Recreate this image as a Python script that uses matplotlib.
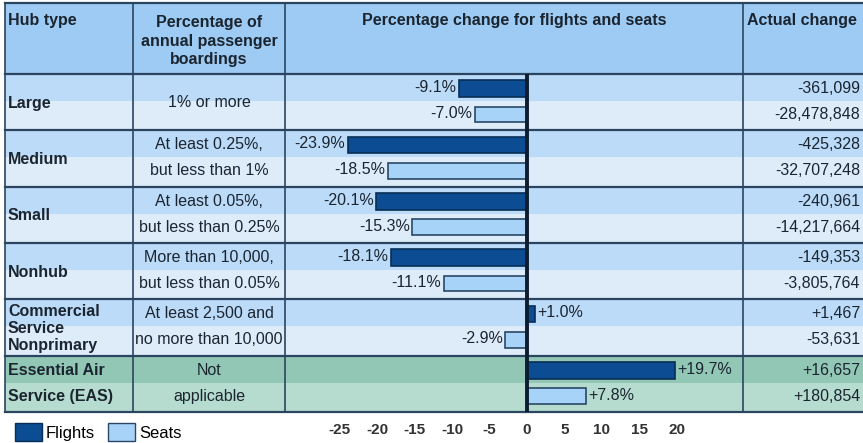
import matplotlib.pyplot as plt
from matplotlib.patches import Rectangle, Patch

# data
hub_types = ['Large', 'Medium', 'Small', 'Nonhub',
             'Commercial\nService\nNonprimary', 'Essential Air\nService (EAS)']
boardings = ['1% or more', 'At least 0.25%,\nbut less than 1%',
             'At least 0.05%,\nbut less than 0.25%',
             'More than 10,000,\nbut less than 0.05%',
             'At least 2,500 and\nno more than 10,000', 'Not\napplicable']
flights_pct = [-9.1, -23.9, -20.1, -18.1, 1.0, 19.7]
seats_pct = [-7.0, -18.5, -15.3, -11.1, -2.9, 7.8]
flights_change = ['-361,099', '-425,328', '-240,961', '-149,353', '+1,467', '+16,657']
seats_change = ['-28,478,848', '-32,707,248', '-14,217,664', '-3,805,764',
                '-53,631', '+180,854']
ticks = [-25, -20, -15, -10, -5, 0, 5, 10, 15, 20]

W, H = 863, 443
NARROW = ['Liberation Sans Narrow', 'Liberation Sans', 'DejaVu Sans']
BOLD = ['Liberation Sans', 'DejaVu Sans']

HEADER = '#9dcbf3'
BAND_TOP = '#bcdbf8'
BAND_BOT = '#deecfa'
EAS_TOP = '#92c7b5'
EAS_BOT = '#b6dccf'
LINE = '#2b4560'
FLIGHT = '#0b4c92'
SEAT = '#a8d3f8'
TXT = '#1b2530'

# table geometry (pixels)
x_left, c1, c2, c3 = 5, 133, 285, 743
y_top, y_head, y_bot = 3, 74, 412
row_h = (y_bot - y_head) / len(hub_types)
f_off, s_off = 0.26, 0.72   # flights / seats sub-row centres

fig = plt.figure(figsize=(W / 100, H / 100), dpi=100)
ax = fig.add_axes([0, 0, 1, 1])
ax.set_xlim(0, W)
ax.set_ylim(H, 0)
ax.axis('off')

ax.add_patch(Rectangle((x_left, y_top), W - x_left, y_head - y_top, color=HEADER, lw=0))
for i in range(len(hub_types)):
    top = y_head + i * row_h
    ctop, cbot = (EAS_TOP, EAS_BOT) if i == 5 else (BAND_TOP, BAND_BOT)
    ax.add_patch(Rectangle((x_left, top), W - x_left, row_h * 0.48, color=ctop, lw=0))
    ax.add_patch(Rectangle((x_left, top + row_h * 0.48), W - x_left, row_h * 0.52,
                           color=cbot, lw=0))

# grid lines
for k in range(len(hub_types) + 1):
    y = y_head + k * row_h
    ax.plot([x_left, W], [y, y], color=LINE, lw=1.6)
ax.plot([x_left, W], [y_top, y_top], color=LINE, lw=1.6)
for x in [x_left, c1, c2, c3]:
    ax.plot([x, x], [y_top, y_bot], color=LINE, lw=1.2)

# header
hdr = dict(family=BOLD, weight='bold', fontsize=11.5, color=TXT, va='center')
ax.text(8, 20, 'Hub type', ha='left', **hdr)
ax.text((c1 + c2) / 2, 41, 'Percentage of\nannual passenger\nboardings', ha='center',
        linespacing=1.3, **hdr)
ax.text(514, 20, 'Percentage change for flights and seats', ha='center', **hdr)
ax.text(c3 + 4, 20, 'Actual change', ha='left', **hdr)

body = dict(family=NARROW, fontsize=11.5, color=TXT, va='center')
for i in range(len(hub_types)):
    mid = y_head + (i + 0.5) * row_h
    yf = y_head + (i + f_off) * row_h
    ys = y_head + (i + s_off) * row_h
    names = hub_types[i].split('\n')
    if len(names) == 2:
        for y, t in zip([yf, ys], names):
            ax.text(8, y, t, family=BOLD, weight='bold', fontsize=11.5, color=TXT,
                    ha='left', va='center')
    else:
        ax.text(8, mid + 1, hub_types[i], family=BOLD, weight='bold', fontsize=11.5,
                color=TXT, ha='left', va='center', linespacing=1.18)
    lines = boardings[i].split('\n')
    if len(lines) == 2:
        for y, t in zip([yf, ys], lines):
            ax.text((c1 + c2) / 2, y, t, ha='center', **body)
    else:
        ax.text((c1 + c2) / 2, mid, lines[0], ha='center', **body)
    ax.text(W - 3, yf, flights_change[i], ha='right', **body)
    ax.text(W - 3, ys, seats_change[i], ha='right', **body)

# bar panel: 0 sits at x=527, 7.5 px per percentage point
px = 7.5
bx = fig.add_axes([c2 / W, 1 - y_bot / H, (c3 - c2) / W, (y_bot - y_head) / H])
bx.patch.set_visible(False)
bx.set_xlim(-(527 - c2) / px, (c3 - 527) / px)
bx.set_ylim(len(hub_types), 0)
for s in bx.spines.values():
    s.set_visible(False)
rows = list(range(len(hub_types)))
bx.barh([r + f_off for r in rows], flights_pct, height=0.30, color=FLIGHT,
        edgecolor='#0a2d55', lw=1.2, zorder=3)
bx.barh([r + s_off for r in rows], seats_pct, height=0.28, color=SEAT,
        edgecolor='#2a4866', lw=1.2, zorder=3)
bx.axvline(0, color='#0c1d30', lw=2.8, zorder=4)
for r in rows:
    for v, off in [(flights_pct[r], f_off - 0.02), (seats_pct[r], s_off - 0.02)]:
        gap = 0.35 if v > 0 else -0.35
        bx.text(v + gap, r + off, f'{v:+.1f}%' if v > 0 else f'{v:.1f}%',
                ha='left' if v > 0 else 'right', **body)
bx.set_yticks([])
bx.set_xticks(ticks)
bx.set_xticklabels([str(t) for t in ticks], family=BOLD, weight='bold',
                   fontsize=11, color='#333333')
bx.tick_params(axis='x', length=0, pad=8)

# legend
handles = [Patch(facecolor=FLIGHT, edgecolor='#0a2d55', label='Flights'),
           Patch(facecolor=SEAT, edgecolor='#2a4866', label='Seats')]
fig.legend(handles=handles, loc='lower left', bbox_to_anchor=(0.0, -0.03), ncol=2,
           frameon=False, handlelength=1.6, handleheight=1.3, handletextpad=0.25,
           columnspacing=0.8, prop={'family': NARROW, 'size': 12})

fig.savefig('out.png', dpi=100)
